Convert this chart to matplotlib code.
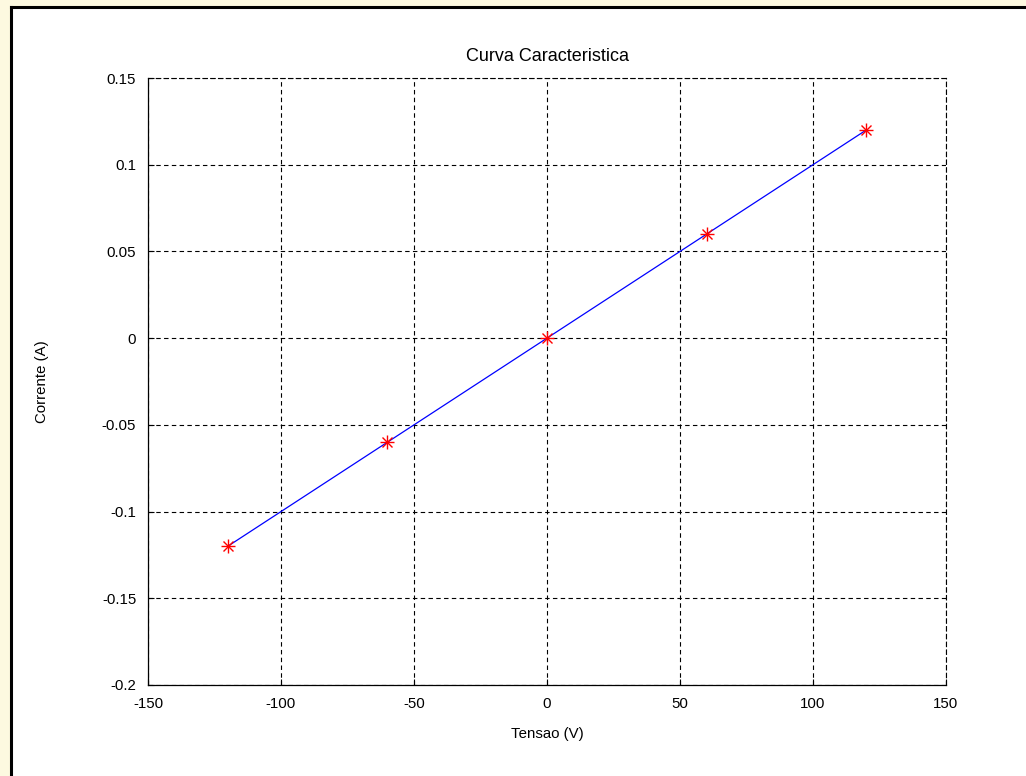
import matplotlib
matplotlib.use("Agg")
import matplotlib.pyplot as plt
from matplotlib.patches import Rectangle
from matplotlib.lines import Line2D

tensao = [-120, -60, 0, 60, 120]
corrente = [-0.12, -0.06, 0.0, 0.06, 0.12]

x_ticks = [-150, -100, -50, 0, 50, 100, 150]
y_ticks = [-0.2, -0.15, -0.1, -0.05, 0, 0.05, 0.1, 0.15]
y_labels = ["-0.2", "-0.15", "-0.1", "-0.05", "0", "0.05", "0.1", "0.15"]

plt.rcParams["font.family"] = ["Liberation Sans", "DejaVu Sans"]
plt.rcParams["font.size"] = 10.8
plt.rcParams["axes.unicode_minus"] = False

fig = plt.figure(figsize=(10.26, 7.76), dpi=100)
fig.patch.set_facecolor("#fdf9e0")

# white panel with dark left/top edge
W, H = 1026, 776
fig.patches.append(Rectangle((12 / W, 0), 1, 1 - 8 / H, transform=fig.transFigure,
                             facecolor="white", edgecolor="none", zorder=-2))
fig.lines.append(Line2D([11 / W, 11 / W], [0, 1 - 7 / H], transform=fig.transFigure,
                        color="black", lw=2.2, zorder=-1))
fig.lines.append(Line2D([11 / W, 1], [1 - 7 / H, 1 - 7 / H], transform=fig.transFigure,
                        color="black", lw=2.2, zorder=-1))

ax = fig.add_axes([148 / W, 1 - 685 / H, (946 - 148) / W, (685 - 78) / H])
ax.plot(tensao, corrente, "-", color="#0000ff", lw=0.9)
# MATLAB style asterisk marker
ax.plot(tensao, corrente, "+", color="red", ms=10, mew=1.0)
ax.plot(tensao, corrente, "x", color="red", ms=7, mew=1.0)

ax.set_xlim(-150, 150)
ax.set_ylim(-0.2, 0.15)
ax.set_xticks(x_ticks)
ax.set_yticks(y_ticks)
ax.set_yticklabels(y_labels)
ax.tick_params(direction="in", length=4, color="black")
ax.tick_params(axis="x", pad=9)
ax.tick_params(axis="y", pad=8.5)
ax.grid(True, color="black", linestyle=(0, (4, 3)), lw=0.8)
for s in ("top", "right"):
    ax.spines[s].set_linestyle((0, (4, 3)))
    ax.spines[s].set_linewidth(0.8)
for s in ("left", "bottom"):
    ax.spines[s].set_linewidth(0.9)

ax.set_title("Curva Caracteristica", pad=12)
ax.set_xlabel("Tensao (V)", labelpad=11)
ax.set_ylabel("Corrente (A)", labelpad=38)

plt.savefig("out.png", dpi=100, facecolor=fig.get_facecolor())
